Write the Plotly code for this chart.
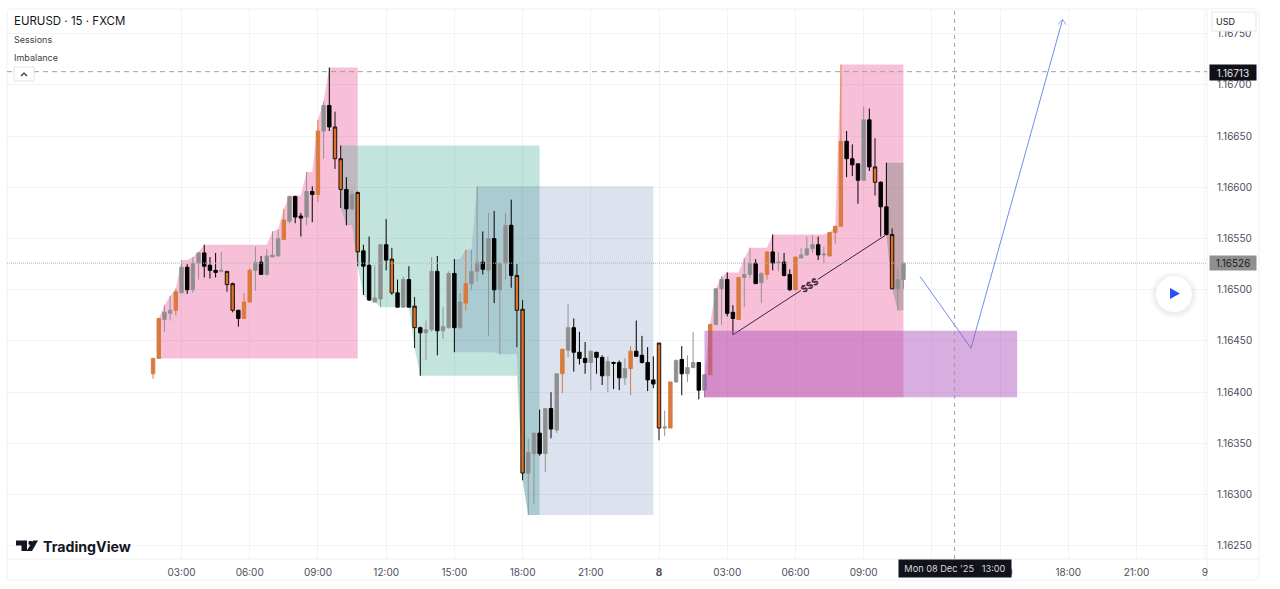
import numpy as np
import plotly.graph_objects as go

# EURUSD 15-minute candles, 7-8 Dec 2025. Prices are stored in 1e-5 points above 1.16000.
FIRST_BAR = 7  # quarter hours after Sunday 00:00

highs = [433,472,485,494,501,529,525,532,537,544,
         532,536,537,518,507,480,497,521,542,533,
         540,557,559,579,592,592,575,615,601,666,
         684,717,674,641,610,597,596,
         544,552,524,545,569,541,510,513,523,493,
         464,470,532,533,483,518,530,497,539,539,
         601,557,575,577,526,575,588,525,490,355,
         360,383,384,400,418,442,486,472,459,449,
         440,439,436,435,430,431,433,445,470,455,
         444,435,448,382,410,432,445,436,459,429,
         417,467,501,513,517,485,512,531,541,530,
         517,537,554,537,536,520,532,541,552,553,
         552,542,556,562,720,655,642,623,679,677,
         648,606,624,560,521,527]
body_tops = [433,472,478,480,498,522,522,526,536,536,
             524,519,519,518,506,480,488,519,527,527,
             533,534,550,568,591,591,572,596,596,655,
             680,680,659,628,598,593,595,
             538,524,492,544,544,530,497,510,510,484,
             463,461,518,518,464,516,516,488,506,518,
             527,527,550,550,526,563,563,514,481,341,
             360,360,384,384,418,442,463,463,439,433,
             440,439,434,430,429,429,423,440,440,436,
             429,412,448,366,410,431,432,424,429,429,
             417,466,501,510,510,478,512,515,526,526,
             516,537,537,527,527,515,532,534,540,544,
             544,535,556,562,645,645,628,623,666,666,
             620,605,581,554,510,526]
body_bottoms = [418,433,471,477,480,497,500,500,526,523,
                519,517,518,505,480,472,472,488,519,515,
                515,532,533,549,567,571,570,571,593,593,
                655,659,628,598,579,579,537,
                523,490,488,491,529,497,483,483,483,463,
                458,458,461,460,460,463,463,463,487,506,
                518,520,519,500,500,526,514,480,321,321,
                340,340,340,364,363,418,441,439,433,429,
                429,434,416,416,428,414,414,423,435,429,
                412,408,365,365,365,410,418,418,424,402,
                402,417,466,501,477,472,471,512,515,506,
                507,515,526,526,514,500,500,531,534,540,
                534,534,533,556,562,628,622,607,607,620,
                605,581,554,501,501,510]
lows = [413,433,459,470,475,497,496,497,510,512,
        511,512,517,498,478,464,472,488,499,515,
        514,532,533,549,565,565,552,563,566,586,
        628,655,618,580,563,578,523,
        495,489,488,483,519,495,483,483,483,443,
        416,431,459,436,452,462,439,462,480,500,
        508,515,455,487,437,510,502,444,314,280,
        291,338,322,355,360,399,434,420,427,418,
        402,418,407,400,403,402,407,397,435,428,
        401,404,353,357,365,409,397,410,424,393,
        395,417,466,466,474,456,471,483,511,506,
        487,510,519,518,513,499,499,531,533,536,
        529,526,533,545,562,610,611,584,607,616,
        592,552,553,501,480,501]
# o plain orange, x orange with black outline, b black, g grey
candle_styles = list("ooggogbggb" "bbgxxboogb" "gggogbbgbo" "gbxxbgx"
                     "bbggbxbgbx" "bggbggbgog" "gbgbggbxxg" "gbgbgogbbb"
                     "gbbgbbgobb" "bbxgogbggb" "goggbboggb" "gobgbboggg"
                     "bgooobbbgb" "xbbxgg")

tick_hours = [3, 6, 9, 12, 15, 18, 21, 24, 27, 30, 33, 36, 39, 42, 45, 48]
tick_labels = ["03:00", "06:00", "09:00", "12:00", "15:00", "18:00", "21:00", "<b>8</b>",
               "03:00", "06:00", "09:00", "12:00", "15:00", "18:00", "21:00", "9"]
price_ticks = [1.1625, 1.163, 1.1635, 1.164, 1.1645, 1.165, 1.1655, 1.166, 1.1665, 1.167, 1.1675]

LAST_PRICE = 1.16526
ALERT_PRICE = 1.16713
CROSSHAIR_HOUR = 37
IMBALANCE_TOP, IMBALANCE_BOTTOM = 1.16460, 1.16395
IMBALANCE_START, IMBALANCE_END = 26.0, 39.75
target_hours = [27.25, 33.94]
target_prices = [1.16456, 1.16553]
scenario_hours = [35.48, 37.72, 41.75]
scenario_prices = [1.16513, 1.16443, 1.16764]
arrow_hours = [41.55, 41.75, 41.90]
arrow_prices = [1.16759, 1.16764, 1.16759]

# (first bar, last bar, fill) of each session band
sessions = [(8, 43, "rgba(233,48,125,0.30)"),
            (40, 75, "rgba(52,165,138,0.30)"),
            (60, 95, "rgba(28,62,148,0.15)"),
            (104, 139, "rgba(233,48,125,0.30)"),
            (136, 139, "rgba(110,120,110,0.38)")]

STYLE_COLOURS = {"o": ("#d97b3e", "#d97b3e"),
                 "x": ("#d9702c", "#1a1008"),
                 "b": ("#000000", "#000000"),
                 "g": ("#8e8e8e", "#939393")}

to_price = lambda pts: 1.16 + np.asarray(pts, dtype=float) / 1e5
high_p, top_p, bottom_p, low_p = map(to_price, (highs, body_tops, body_bottoms, lows))
bar_hours = (FIRST_BAR + np.arange(len(highs))) * 0.25
styles = np.array(candle_styles)

fig = go.Figure()

# Plot panel pixel bounds, used for overlay widgets placed in paper coordinates
L, R, T, B = 7, 1207, 9, 559
px = lambda x: (x - L) / (R - L)
py = lambda y: (B - y) / (B - T)

# Session bands: running high and running low since the session opened
for first, last, fill in sessions:
    i0, i1 = first - FIRST_BAR, last - FIRST_BAR + 1
    xs = bar_hours[i0:i1]
    tops = np.maximum.accumulate(high_p[i0:i1])
    bottoms = np.minimum.accumulate(low_p[i0:i1])
    pts = list(zip(xs, tops)) + list(zip(xs[::-1], bottoms[::-1]))
    path = "M " + " L ".join(f"{a:.3f},{b:.5f}" for a, b in pts) + " Z"
    fig.add_shape(type="path", path=path, fillcolor=fill, line_width=0, layer="between")

for key, (fill, edge) in STYLE_COLOURS.items():
    mask = styles == key
    side = dict(fillcolor=fill, line=dict(color=edge, width=1))
    fig.add_trace(go.Candlestick(x=bar_hours[mask], open=bottom_p[mask], high=high_p[mask],
                                 low=low_p[mask], close=top_p[mask],
                                 increasing=side, decreasing=side,
                                 hoverinfo="skip", showlegend=False))

# Imbalance zone sits over the candles
fig.add_shape(type="rect", x0=IMBALANCE_START, x1=IMBALANCE_END, y0=IMBALANCE_BOTTOM, y1=IMBALANCE_TOP,
              fillcolor="rgba(168,75,186,0.45)", line_width=0, layer="above")

# Drawn target line and projected path
fig.add_trace(go.Scatter(x=target_hours, y=target_prices, mode="lines",
                         line=dict(color="#3b2238", width=1), hoverinfo="skip", showlegend=False))
fig.add_trace(go.Scatter(x=scenario_hours, y=scenario_prices, mode="lines",
                         line=dict(color="#6f8fe6", width=1), hoverinfo="skip", showlegend=False))
fig.add_trace(go.Scatter(x=arrow_hours, y=arrow_prices, mode="lines",
                         line=dict(color="#8a9ff0", width=1), hoverinfo="skip", showlegend=False))

# Price and time reference lines
fig.add_shape(type="line", xref="paper", x0=0, x1=1, y0=ALERT_PRICE, y1=ALERT_PRICE,
              line=dict(color="#a0a0a0", width=1, dash="5px,4px"), layer="above")
fig.add_shape(type="line", xref="paper", x0=0, x1=1, y0=LAST_PRICE, y1=LAST_PRICE,
              line=dict(color="#b4b4b4", width=1, dash="1px,1px"), layer="above")
fig.add_shape(type="line", yref="paper", y0=0, y1=1, x0=CROSSHAIR_HOUR, x1=CROSSHAIR_HOUR,
              line=dict(color="#a0a0a0", width=1, dash="4px,4px"), layer="above")

# Panel frame and scale separators
EDGE = "#efefef"
fig.add_shape(type="path", xref="paper", yref="paper", layer="below",
              line=dict(color=EDGE, width=1),
              path=(f"M {px(12)},{py(9)} L {px(1254)},{py(9)} Q {px(1259)},{py(9)} {px(1259)},{py(14)} "
                    f"L {px(1259)},{py(575)} Q {px(1259)},{py(580)} {px(1254)},{py(580)} "
                    f"L {px(12)},{py(580)} Q {px(7)},{py(580)} {px(7)},{py(575)} "
                    f"L {px(7)},{py(14)} Q {px(7)},{py(9)} {px(12)},{py(9)} Z"))
fig.add_shape(type="line", xref="paper", yref="paper", x0=1, x1=1, y0=py(9), y1=py(580),
              line=dict(color=EDGE, width=1), layer="below")
fig.add_shape(type="line", xref="paper", yref="paper", x0=0, x1=px(1259), y0=0, y1=0,
              line=dict(color=EDGE, width=1), layer="below")


def widget(kind, x0, y0, x1, y1, fill, edge=None):
    fig.add_shape(type=kind, xref="paper", yref="paper", x0=px(x0), x1=px(x1), y0=py(y0), y1=py(y1),
                  fillcolor=fill, line=dict(color=edge or "rgba(0,0,0,0)", width=1), layer="above")


def poly(points, fill="rgba(0,0,0,0)", edge=None, width=1):
    path = "M " + " L ".join(f"{px(a)},{py(b)}" for a, b in points)
    if fill != "rgba(0,0,0,0)":
        path += " Z"
    fig.add_shape(type="path", xref="paper", yref="paper", path=path, fillcolor=fill,
                  line=dict(color=edge or "rgba(0,0,0,0)", width=width), layer="above")


# Legend collapse button
widget("rect", 14, 67, 34, 81, "#ffffff", "#e4e4e4")
poly([(21, 76), (24, 73), (27, 76)], edge="#333333", width=1.2)

# Play button with a soft shadow built from stacked translucent discs
for grow in (6, 5, 4, 3, 2, 1):
    widget("circle", 1156 - grow, 276 - grow + 1, 1192 + grow, 312 + grow + 1, "rgba(0,0,0,0.012)")
widget("circle", 1156, 276, 1192, 312, "#ffffff")
poly([(1170, 288), (1180, 293.5), (1170, 299)], fill="#2b50f0")

# Currency selector covering the top of the price scale
widget("rect", 1212, 12, 1256, 31, "#ffffff", "#e6e6e6")

# Logo mark
poly([(16, 540.5), (27, 540.5), (27, 551), (21.5, 551), (21.5, 545.5), (16, 545.5)], fill="#131722")
widget("circle", 28.3, 540.7, 32.7, 545.1, "#131722")
poly([(33, 540.5), (38, 540.5), (32, 551), (26.5, 551)], fill="#131722")

FONT = "Inter"


def label(x, y, text, size=10, colour="#131722", anchor="left", **kw):
    fig.add_annotation(xref="paper", yref="paper", x=px(x), y=py(y), text=text, showarrow=False,
                       xanchor=anchor, yanchor="middle", borderpad=0,
                       font=dict(family=FONT, size=size, color=colour), **kw)


label(12.5, 21, "EURUSD · 15 · FXCM", size=11.5)
label(12.5, 39, "Sessions", size=9, colour="#3a3e4a")
label(12.5, 57, "Imbalance", size=9, colour="#3a3e4a")
label(1215, 21.5, "USD", size=9)
label(42, 546, "<b>TradingView</b>", size=14.2)
label(1232.5, 72.5, "1.16713", colour="#e8e8e8", anchor="center", bgcolor="#101018", width=46, height=15)
label(1232.5, 263, "1.16526", colour="#1c1c1c", anchor="center", bgcolor="#8f8f8f", width=46, height=14)
label(955, 569, "Mon 08 Dec '25   13:00", size=9.2, colour="#d8d8d8", anchor="center",
      bgcolor="#11121a", width=112, height=17)
fig.add_annotation(x=30.6, y=1.165045, text="<b>$$$</b>", showarrow=False, textangle=-33,
                   bgcolor="#f8c1d8", borderpad=0,
                   font=dict(family=FONT, size=9.5, color="#3b2238"))

GRID = "#f3f3f3"
fig.update_layout(
    width=1280, height=589, autosize=False,
    margin=dict(l=L, r=1280 - R, t=T, b=589 - B, pad=0),
    paper_bgcolor="#ffffff", plot_bgcolor="#ffffff",
    showlegend=False, boxmode="overlay", boxgap=0.4, boxgroupgap=0, dragmode=False,
    xaxis=dict(range=[-4.675, 48.10], tickmode="array", tickvals=tick_hours, ticktext=tick_labels,
               rangeslider=dict(visible=False), showgrid=True, gridcolor=GRID, gridwidth=1, zeroline=False,
               showline=False, ticks="outside", ticklen=4, tickcolor="rgba(0,0,0,0)",
               tickfont=dict(family=FONT, size=10, color="#4a4e5a")),
    yaxis=dict(range=[1.162371, 1.167742], side="right", tickmode="array", tickvals=price_ticks,
               ticktext=[f"{p:.5f}" for p in price_ticks], showgrid=True, gridcolor=GRID, gridwidth=1,
               zeroline=False, showline=False, ticks="outside", ticklen=7, tickcolor="rgba(0,0,0,0)",
               tickfont=dict(family=FONT, size=10, color="#4a4e5a")),
)

fig.write_html("out.html", config=dict(displayModeBar=False))
